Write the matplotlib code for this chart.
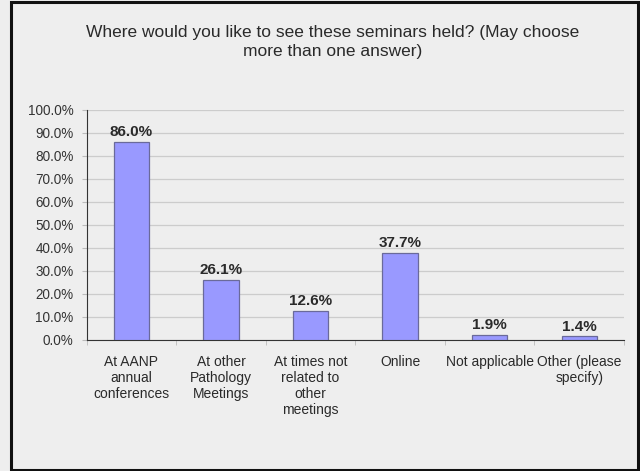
import matplotlib.pyplot as plt
from matplotlib.patches import Rectangle
from matplotlib.ticker import FixedLocator

categories = ['At AANP\nannual\nconferences', 'At other\nPathology\nMeetings',
              'At times not\nrelated to\nother\nmeetings', 'Online',
              'Not applicable', 'Other (please\nspecify)']
values = [86.0, 26.1, 12.6, 37.7, 1.9, 1.4]
yticks = [0, 10, 20, 30, 40, 50, 60, 70, 80, 90, 100]
title = 'Where would you like to see these seminars held? (May choose\nmore than one answer)'

plt.rcParams['font.family'] = ['Liberation Sans', 'DejaVu Sans']

fig = plt.figure(figsize=(6.4, 4.71), dpi=100)
fig.patch.set_facecolor('#eeeeee')
# dark frame round the chart area
fig.patches.append(Rectangle((0.0167, 0.0025), 0.9803, 0.9928, transform=fig.transFigure,
                             fill=False, edgecolor='#111111', linewidth=2.2))

ax = fig.add_axes([0.1355, 0.279, 0.8395, 0.4875])
ax.set_facecolor('#eeeeee')

x = list(range(len(values)))
ax.bar(x, values, width=0.395, color='#9999ff', edgecolor='#6a6a9a', linewidth=0.9, zorder=3)

for xi, v in zip(x, values):
    ax.annotate(f'{v:.1f}%', (xi, v), xytext=(0, 2), textcoords='offset points',
                ha='center', va='bottom', fontsize=11, fontweight='bold', color='#2a2a2a')

ax.set_xlim(-0.5, len(values) - 0.5)
ax.set_ylim(0, 100)
ax.set_yticks(yticks)
ax.set_yticklabels([f'{t:.1f}%' for t in yticks], fontsize=9.75, color='#333333')
ax.yaxis.grid(True, color='#cccccc', linewidth=0.9, zorder=0)

ax.set_xticks(x)
ax.set_xticklabels(categories, fontsize=10, color='#2a2a2a', linespacing=1.2)
ax.tick_params(axis='x', which='major', length=0, pad=11)
ax.xaxis.set_minor_locator(FixedLocator([i - 0.5 for i in range(len(values) + 1)]))
ax.tick_params(axis='x', which='minor', length=3.4, color='#bbbbbb')
ax.tick_params(axis='y', length=3.6, color='#bbbbbb', pad=6)

for s in ['top', 'right']:
    ax.spines[s].set_visible(False)
ax.spines['left'].set_color('#333333')
ax.spines['bottom'].set_color('#333333')

fig.text(0.52, 0.911, title, ha='center', va='center', fontsize=12.5,
         color='#2a2a2a', linespacing=1.38)

fig.savefig('out.png', dpi=100, facecolor=fig.get_facecolor())
